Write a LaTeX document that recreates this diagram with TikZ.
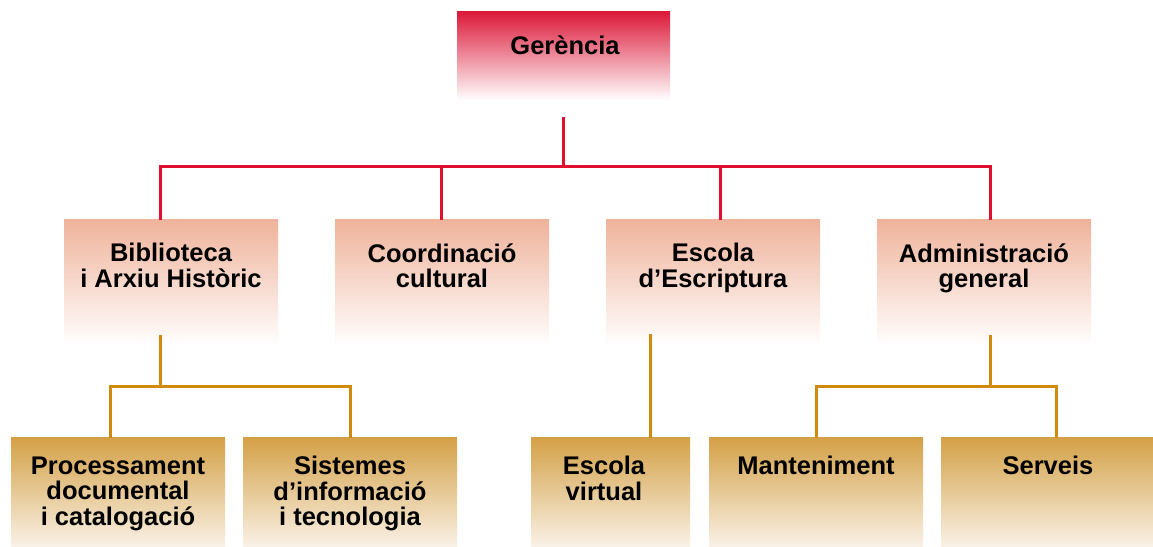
\documentclass[tikz,border=0pt]{standalone}
\usepackage{fontspec}
\setmainfont{Liberation Sans}

\definecolor{gerred}{HTML}{DC1A3A}
\definecolor{redline}{HTML}{E0102E}
\definecolor{salmon}{HTML}{EFB39B}
\definecolor{goldtop}{HTML}{D4A147}
\definecolor{goldlow}{HTML}{F9F1E6}
\definecolor{goldline}{HTML}{D08A0E}

% fades, bottom to top (box fits 25bp--75bp)
\pgfdeclareverticalshading{gerfade}{100bp}{color(0bp)=(white); color(25bp)=(white); color(41bp)=(white); color(75bp)=(gerred); color(100bp)=(gerred)}
\pgfdeclareverticalshading{areafade}{100bp}{color(0bp)=(white); color(25bp)=(white); color(38bp)=(white); color(75bp)=(salmon); color(100bp)=(salmon)}
\pgfdeclareverticalshading{unitfade}{100bp}{color(0bp)=(goldlow); color(25bp)=(goldlow); color(75bp)=(goldtop); color(100bp)=(goldtop)}

\tikzset{
  topbox/.style={inner sep=0pt, minimum width=213pt, minimum height=130pt, shading=gerfade},
  areabox/.style={inner sep=0pt, minimum width=214pt, minimum height=170pt, shading=areafade},
  unitbox/.style={inner sep=0pt, minimum width=214pt, minimum height=108pt, shading=unitfade},
  lbl/.style={anchor=north, inner sep=0pt, align=center, font=\bfseries\fontsize{25.5}{25.5}\selectfont},
  redwire/.style={draw=redline, line width=3pt},
  goldwire/.style={draw=goldline, line width=3pt}
}

\begin{document}
\begin{tikzpicture}[x=1pt,y=1pt]
  \useasboundingbox (0,0) rectangle (1153,546);

  % boxes
  \node[topbox] (ger) at (563.5,469) {};
  \node[areabox] (bib) at (171,241) {};
  \node[areabox] (coo) at (442,241) {};
  \node[areabox] (esc) at (713,241) {};
  \node[areabox] (adm) at (984,241) {};
  \node[unitbox] (pro) at (118,54) {};
  \node[unitbox] (sis) at (350,54) {};
  \node[unitbox, minimum width=159pt] (vir) at (610.5,54) {};
  \node[unitbox] (man) at (816,54) {};
  \node[unitbox] (ser) at (1048,54) {};

  % texts
  \node[lbl] (gertxt) at ([xshift=1.5pt,yshift=-23.5pt]ger.north) {Gerència};
  \node[lbl] (bibtxt) at ([yshift=-23.5pt]bib.north) {Biblioteca\\i Arxiu Històric};
  \node[lbl] (cootxt) at ([yshift=-23.5pt]coo.north) {Coordinació\\cultural};
  \node[lbl] (esctxt) at ([yshift=-23.5pt]esc.north) {Escola\\d’Escriptura};
  \node[lbl] (admtxt) at ([yshift=-23.5pt]adm.north) {Administració\\general};
  \node[lbl] (protxt) at ([yshift=-18.5pt]pro.north) {Processament\\documental\\i catalogació};
  \node[lbl] (sistxt) at ([yshift=-18.5pt]sis.north) {Sistemes\\d’informació\\i tecnologia};
  \node[lbl] (virtxt) at ([xshift=-6.5pt,yshift=-18.5pt]vir.north) {Escola\\virtual};
  \node[lbl] (mantxt) at ([yshift=-18.5pt]man.north) {Manteniment};
  \node[lbl] (sertxt) at ([yshift=-18.5pt]ser.north) {Serveis};

  % red level
  \coordinate (gerout) at ([xshift=-0.5pt,yshift=-105pt]ger.north);
  \coordinate (bibin) at ([xshift=-11pt]bib.north);
  \coordinate (cooin) at ([xshift=-1pt]coo.north);
  \coordinate (escin) at ([xshift=7pt]esc.north);
  \coordinate (admin) at ([xshift=6pt]adm.north);
  \draw[redwire] (gerout) -- ++(0,-50) coordinate (bus);
  \draw[redwire] (bibin) |- (bus) -| (admin);
  \draw[redwire] (cooin) -- (cooin |- bus);
  \draw[redwire] (escin) -- (escin |- bus);

  % gold level
  \coordinate (bibout) at ([xshift=-11pt,yshift=55pt]bib.south);
  \coordinate (escout) at ([xshift=-63pt,yshift=56pt]esc.south);
  \coordinate (admout) at ([xshift=6pt,yshift=55pt]adm.south);
  \coordinate (proin) at ([xshift=-8pt]pro.north);
  \coordinate (sisin) at (sis.north);
  \coordinate (virin) at ([xshift=39.5pt]vir.north);
  \coordinate (manin) at (man.north);
  \coordinate (serin) at ([xshift=8pt]ser.north);
  \draw[goldwire] (bibout) -- ++(0,-51) coordinate (bbus);
  \draw[goldwire] (proin) |- (bbus) -| (sisin);
  \draw[goldwire] (escout) -- (virin);
  \draw[goldwire] (admout) -- ++(0,-51) coordinate (abus);
  \draw[goldwire] (manin) |- (abus) -| (serin);
\end{tikzpicture}
\end{document}
